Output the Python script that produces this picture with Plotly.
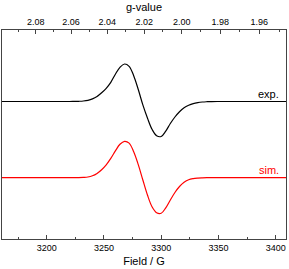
import plotly.graph_objects as go

# Field values (G)
field = [3161, 3190, 3210, 3220,
         3224, 3228, 3232, 3236, 3240, 3244, 3248, 3252, 3256, 3260,
         3264, 3268, 3272, 3276, 3280, 3284, 3288, 3292, 3296, 3300,
         3304, 3308, 3312, 3316, 3320, 3324, 3328, 3332, 3336, 3340, 3344,
         3350, 3370, 3390, 3409]
# Experimental derivative spectrum (arb. units)
exp_int = [0, 0, 0, 0,
           0.05, 0.2, 0.5, 1.2, 2.6, 5.0, 8.7, 13.2, 19.2, 27.3,
           34.2, 37.5, 35.2, 25.8, 12.0, -3.4, -16.5, -27.8, -34.2, -35.0,
           -29.6, -22.0, -15.5, -10.2, -6.3, -3.8, -2.1, -1.1, -0.5, -0.2, -0.05,
           0, 0, 0, 0]
# Simulated derivative spectrum (arb. units)
sim_int = [0, 0, 0, 0,
           0, 0.1, 0.3, 0.7, 1.9, 4.3, 8.0, 12.9, 19.3, 26.8,
           33.4, 36.4, 34.6, 26.0, 13.1, -2.3, -17.3, -29.0, -35.0, -35.6,
           -30.2, -22.3, -14.8, -8.8, -4.6, -2.0, -0.9, -0.4, -0.15, 0, 0,
           0, 0, 0, 0]

exp_offset = 137.5
sim_offset = 61.3

field_ticks = [3200, 3250, 3300, 3350, 3400]
field_minor = [3175, 3225, 3275, 3325, 3375]
g_ticks = [2.08, 2.06, 2.04, 2.02, 2.00, 1.98, 1.96]
g_labels = ["2.08", "2.06", "2.04", "2.02", "2.00", "1.98", "1.96"]
g_minor = [2.09, 2.07, 2.05, 2.03, 2.01, 1.99, 1.97, 1.95]
HNU_MUB = 6636.0  # h*nu/mu_B in G

xr = [3161, 3409]
fnt = "Liberation Sans, Arial, sans-serif"

fig = go.Figure()
fig.add_trace(go.Scatter(x=field, y=[v + exp_offset for v in exp_int], mode="lines",
                         line=dict(color="#000000", width=1.2, shape="spline", smoothing=1.0),
                         showlegend=False, hoverinfo="skip"))
fig.add_trace(go.Scatter(x=field, y=[v + sim_offset for v in sim_int], mode="lines",
                         line=dict(color="#ff0000", width=1.2, shape="spline", smoothing=1.0),
                         showlegend=False, hoverinfo="skip"))
fig.add_trace(go.Scatter(x=xr, y=[0, 0], xaxis="x2", mode="lines",
                         line=dict(width=0), showlegend=False, hoverinfo="skip"))

fig.add_annotation(x=3405, y=exp_offset, xref="x", yref="y", text="exp.", showarrow=False,
                   xanchor="right", yanchor="bottom", yshift=0,
                   font=dict(family=fnt, size=11, color="#000000"))
fig.add_annotation(x=3405, y=sim_offset, xref="x", yref="y", text="sim.", showarrow=False,
                   xanchor="right", yanchor="bottom", yshift=0,
                   font=dict(family=fnt, size=11, color="#ff0000"))

axis_common = dict(showline=True, linecolor="#444444", linewidth=1.3, showgrid=False,
                   zeroline=False, ticks="inside", ticklen=4, tickwidth=1, tickcolor="#444444",
                   tickfont=dict(family=fnt, size=9, color="#000000"))

fig.update_layout(
    width=289, height=269,
    margin=dict(l=2, r=3, t=30, b=30),
    paper_bgcolor="white", plot_bgcolor="white",
    xaxis=dict(range=xr, tickmode="array", tickvals=field_ticks,
               ticktext=[str(v) for v in field_ticks],
               minor=dict(tickmode="array", tickvals=field_minor, ticks="inside",
                          ticklen=2, tickcolor="#444444"),
               title=dict(text="Field / G", font=dict(family=fnt, size=11, color="#000000"),
                          standoff=5),
               **axis_common),
    xaxis2=dict(range=xr, overlaying="x", side="top", tickmode="array",
                tickvals=[HNU_MUB / g for g in g_ticks], ticktext=g_labels,
                minor=dict(tickmode="array", tickvals=[HNU_MUB / g for g in g_minor],
                           ticks="inside", ticklen=2, tickcolor="#444444"),
                title=dict(text="g-value", font=dict(family=fnt, size=11, color="#000000"),
                           standoff=3),
                **axis_common),
    yaxis=dict(range=[0, 209], showline=True, mirror=True, linecolor="#444444", linewidth=1.3,
               showticklabels=False, ticks="", showgrid=False, zeroline=False),
)

fig.write_html("out.html", config={"displayModeBar": False},
               post_script="document.body.style.margin='0';")
